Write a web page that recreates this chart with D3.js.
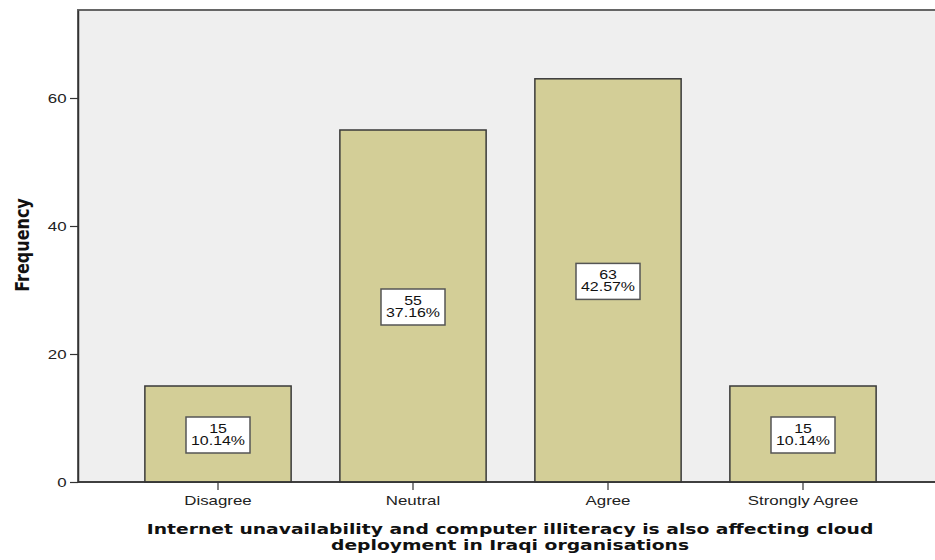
<!DOCTYPE html>
<html><head><meta charset="utf-8">
<script src="https://cdn.jsdelivr.net/npm/d3@7"></script>
<style>html,body{margin:0;padding:0;background:#fff;}svg{display:block;}</style>
</head><body>
<svg id="chart" width="935" height="560"></svg>
<script>
const categories = ["Disagree", "Neutral", "Agree", "Strongly Agree"];
const frequencies = [15, 55, 63, 15];
const percentLabels = ["10.14%", "37.16%", "42.57%", "10.14%"];
const yTicks = [0, 20, 40, 60];
const yTitle = "Frequency";
const xTitleLines = ["Internet unavailability and computer illiteracy is also affecting cloud", "deployment in Iraqi organisations"];

const W = 935, H = 560;
const plot = {left: 78, top: 10, right: 945, bottom: 482};
const SX = 1.35; // horizontal stretch of the original rendering
const svg = d3.select("#chart");

const y = d3.scaleLinear().domain([0, 73.75]).range([plot.bottom, plot.top]);
const x = d3.scaleBand().domain(categories).range([120.5, 900.5]).paddingInner(0.25).paddingOuter(0.125);

// plot background
svg.append("rect").attr("x", plot.left).attr("y", plot.top)
  .attr("width", plot.right - plot.left).attr("height", plot.bottom - plot.top)
  .attr("fill", "#efefef").attr("stroke", "#666").attr("stroke-width", 2);

// bars
svg.selectAll("rect.bar").data(categories).join("rect").attr("class", "bar")
  .attr("x", d => x(d)).attr("width", x.bandwidth())
  .attr("y", (d, i) => y(frequencies[i])).attr("height", (d, i) => y(0) - y(frequencies[i]))
  .attr("fill", "#d3ce97").attr("stroke", "#3a3a3a").attr("stroke-width", 1.5);

// axes
const font = "'Liberation Sans', Arial, sans-serif";
const bold = "'DejaVu Sans', Verdana, sans-serif";
const yAxis = svg.append("g").attr("transform", `translate(${plot.left},0)`)
  .call(d3.axisLeft(y).tickValues(yTicks).tickSize(8).tickPadding(3).tickSizeOuter(0));
yAxis.select(".domain").attr("stroke", "#333").attr("stroke-width", 1.5);
yAxis.selectAll(".tick line").attr("stroke", "#333").attr("stroke-width", 1.2);
yAxis.selectAll(".tick text").attr("font-family", font).attr("font-size", 12.5).attr("fill", "#222")
  .attr("dy", "0.34em").attr("transform", `scale(${SX},1)`).attr("x", -11.5 / SX);

const xAxis = svg.append("g").attr("transform", `translate(0,${plot.bottom})`)
  .call(d3.axisBottom(x).tickSize(8).tickPadding(4).tickSizeOuter(0));
xAxis.select(".domain").remove();
svg.append("line").attr("x1", plot.left).attr("x2", W).attr("y1", plot.bottom).attr("y2", plot.bottom)
  .attr("stroke", "#333").attr("stroke-width", 1.5);
xAxis.selectAll(".tick line").attr("stroke", "#333").attr("stroke-width", 1.2);
xAxis.selectAll(".tick text").attr("font-family", font).attr("font-size", 12.5).attr("fill", "#222")
  .attr("transform", `scale(${SX},1)`).attr("y", 14).attr("dy", "0.71em");

// value labels
const lbl = svg.selectAll("g.lbl").data(categories).join("g").attr("class", "lbl")
  .attr("transform", (d, i) => `translate(${x(d) + x.bandwidth() / 2},${(y(frequencies[i]) + y(0)) / 2})`);
lbl.append("rect").attr("x", -32).attr("y", -17).attr("width", 64).attr("height", 36)
  .attr("fill", "#fff").attr("stroke", "#555").attr("stroke-width", 1.5);
const lt = lbl.append("text").attr("transform", `scale(1.33,1)`).attr("text-anchor", "middle")
  .attr("font-family", font).attr("font-size", 12).attr("fill", "#111");
lt.append("tspan").attr("x", 0).attr("y", -1.5).text((d, i) => frequencies[i]);
lt.append("tspan").attr("x", 0).attr("y", 10.5).text((d, i) => percentLabels[i]);

// y title
svg.append("text").attr("transform", `translate(29,245) scale(1.2,1) rotate(-90)`)
  .attr("text-anchor", "middle").attr("font-family", bold).attr("font-weight", "bold")
  .attr("font-size", 16).attr("fill", "#111").text(yTitle);

// x title (fit first line to the original's width)
const tt = svg.append("text").attr("text-anchor", "middle").attr("font-family", bold)
  .attr("font-weight", "bold").attr("font-size", 14.5).attr("fill", "#111");
xTitleLines.forEach((s, i) => tt.append("tspan").attr("x", 0).attr("y", 534 + i * 16).text(s));
const natural = tt.select("tspan").node().getComputedTextLength();
tt.attr("transform", `translate(510,0) scale(${727 / natural},1)`);
</script>
</body></html>
